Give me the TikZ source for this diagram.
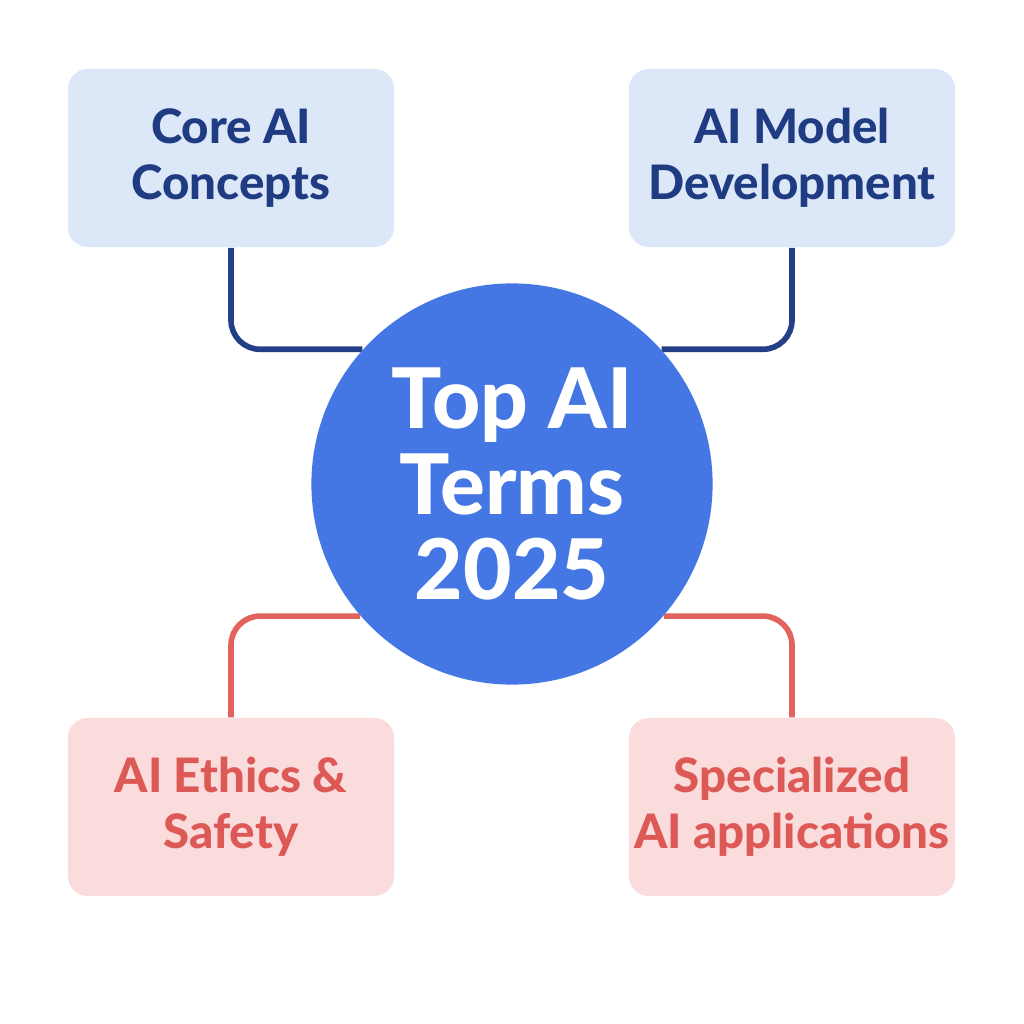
\documentclass[tikz,border=0pt]{standalone}
\usepackage{fontspec}
\setmainfont{Lato}[BoldFont={Lato Heavy}]
\usetikzlibrary{
  positioning,
  backgrounds,  % Predefined layer named "background"
}
\definecolor{hubblue}{HTML}{4477E3}
\definecolor{navy}{HTML}{1F3B82}
\definecolor{navyline}{HTML}{233F87}
\definecolor{paleblue}{HTML}{DCE7F8}
\definecolor{coral}{HTML}{DC5955}
\definecolor{coralline}{HTML}{E0635D}
\definecolor{palered}{HTML}{FADCDC}
\def\myboxw{3.26cm}
\def\myboxh{1.78cm}
\tikzset{
  my box/.style={
    rectangle,
    rounded corners=0.2cm,
    minimum width=\myboxw,
    minimum height=\myboxh,
    inner sep=0mm,
    align=center,
    font=\bfseries\fontsize{13.5}{16}\selectfont
  },
  blue box/.style={
    my box,
    fill=paleblue,
    text=navy
  },
  red box/.style={
    my box,
    fill=palered,
    text=coral
  },
  hub/.style={
    circle,
    fill=hubblue,
    text=white,
    minimum size=4.01cm,
    inner sep=0mm,
    align=center,
    font=\bfseries\fontsize{23.8}{24.2}\selectfont
  },
  link/.style={
    line width=1.6pt,
    rounded corners=0.29cm
  }
}

\begin{document}
\begin{tikzpicture}[x=0.01cm,y=-0.01cm]
\useasboundingbox (0,0) rectangle (1024,1024);
\node[hub] (hub) at (512,484) {Top AI\\Terms\\2025};
\node[blue box] (core) at (231,158) {Core AI\\Concepts};
\node[blue box] (dev) at (792,158) {AI Model\\Development};
\node[red box] (ethics) at (231,807) {AI Ethics \&\\Safety};
\node[red box] (apps) at (792,807) {Specialized\\AI applications};
\begin{scope}[on background layer]
  \fill[white] (0,0) rectangle (1024,1024);
  \draw[link,navyline] (core.south) |- (hub.138);
  \draw[link,navyline] (dev.south) |- (hub.42);
  \draw[link,coralline] (ethics.north) |- (hub.221);
  \draw[link,coralline] (apps.north) |- (hub.319);
\end{scope}
\end{tikzpicture}
\end{document}
